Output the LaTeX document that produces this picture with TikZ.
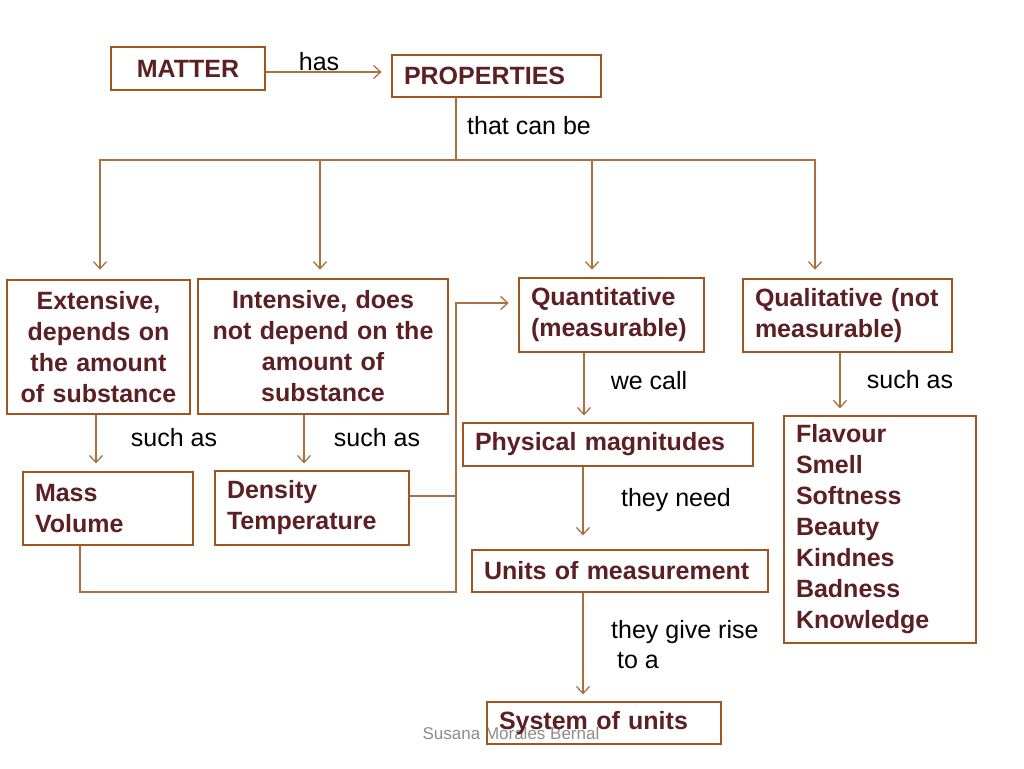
\documentclass[tikz,border=0pt]{standalone}
\usepackage{fontspec}
\setmainfont{Liberation Sans}
\usetikzlibrary{arrows.meta}
\definecolor{boxc}{HTML}{A0561E}
\definecolor{txtc}{HTML}{5C1F24}
\definecolor{linec}{HTML}{A9713F}
\definecolor{credc}{HTML}{8C8C8C}
\begin{document}
\begin{tikzpicture}[x=1pt,y=-1pt,
  box/.style={draw=boxc, line width=2.8pt, text=txtc, font=\fontsize{25}{31}\selectfont\bfseries, inner xsep=12pt, inner ysep=0pt, align=left},
  cbox/.style={box, inner xsep=4pt, align=center},
  lbl/.style={font=\fontsize{25}{30}\selectfont, text=black, inner sep=0pt},
  conn/.style={draw=linec, line width=1.3pt},
  arr/.style={conn, -{Straight Barb[length=7pt,width=13pt]}}]
\useasboundingbox (0,0) rectangle (1024,768);
\fill[white] (0,0) rectangle (1024,768);

% credit (behind)
\node[font=\fontsize{17}{20}\selectfont, text=credc, inner sep=0pt] (credit) at (511,733) {Susana Morales Bernal};

% boxes
\node[box, align=center, inner xsep=0pt, minimum width=154, minimum height=43] (matter) at (188,68.5) {MATTER};
\node[box, text width=185pt, minimum height=42] (props) at (496.5,76) {PROPERTIES};
\node[cbox, text width=175pt, minimum height=134] (ext) at (98.5,347) {Extensive,\\depends on\\the amount\\of substance};
\node[cbox, text width=242pt, minimum height=135] (int) at (323,346.5) {Intensive, does\\not depend on the\\amount of\\substance};
\node[box, text width=161pt, minimum height=74] (quant) at (611.5,315) {Quantitative\\(measurable)};
\node[box, text width=185pt, minimum height=73] (qual) at (847.5,315.5) {Qualitative (not\\measurable)};
\node[box, text width=146pt, minimum height=73] (mass) at (108,508.5) {Mass\\Volume};
\node[box, text width=170pt, minimum height=74] (dens) at (312,508) {Density\\Temperature};
\node[box, text width=266pt, minimum height=43] (phys) at (608,444.5) {Physical magnitudes};
\node[box, text width=272pt, minimum height=42] (units) at (620,571) {Units of measurement};
\node[box, text width=168pt, minimum height=227] (flav) at (880,529.5) {Flavour\\Smell\\Softness\\Beauty\\Kindnes\\Badness\\Knowledge};
\node[box, text width=210pt, minimum height=42] (sys) at (604,723) {System of units};

% connectors
\coordinate (hasy) at (0,72);
\draw[arr] (matter.east |- hasy) -- ([xshift=-9pt]props.west |- hasy);

\coordinate (bus) at (456,160);
\draw[conn] (props.south -| bus) -- (bus);
\draw[arr] (bus) -| ([xshift=1.5pt,yshift=9pt]ext.north);
\draw[arr] (bus) -| ([xshift=-3pt,yshift=8pt]int.north);
\draw[arr] (bus) -| ([xshift=-19.5pt,yshift=7pt]quant.north);
\draw[arr] (bus) -| ([xshift=-32.5pt,yshift=8pt]qual.north);

\draw[arr] ([xshift=-2.5pt]ext.south) -- ++(0,48);
\draw[arr] ([xshift=-19pt]int.south) -- ++(0,48);
\draw[arr] ([xshift=-27.5pt]quant.south) -- ++(0,62);
\draw[arr] ([xshift=-25pt]phys.south) -- ++(0,68);
\draw[arr] ([xshift=-37pt]units.south) -- ++(0,101);
\draw[arr] ([xshift=-7.5pt]qual.south) -- ++(0,55);

\coordinate (jn) at (456,592);
\draw[arr] ([xshift=-28pt]mass.south) |- (jn) |- ([xshift=-9pt,yshift=12pt]quant.west);
\draw[conn] ([yshift=12pt]dens.east) -| (jn);

% labels
\node[lbl] (lhas) at (319,62) {has};
\node[lbl] (lcan) at (529,126) {that can be};
\node[lbl] (ls1) at (174,438) {such as};
\node[lbl] (ls2) at (377,438) {such as};
\node[lbl] (lcall) at (649,381) {we call};
\node[lbl] (ls3) at (910,380) {such as};
\node[lbl] (lneed) at (676,500) {they need};
\node[lbl, anchor=west, align=left] (lrise) at (611,645) {they give rise\\\hspace{6pt}to a};
\end{tikzpicture}
\end{document}
